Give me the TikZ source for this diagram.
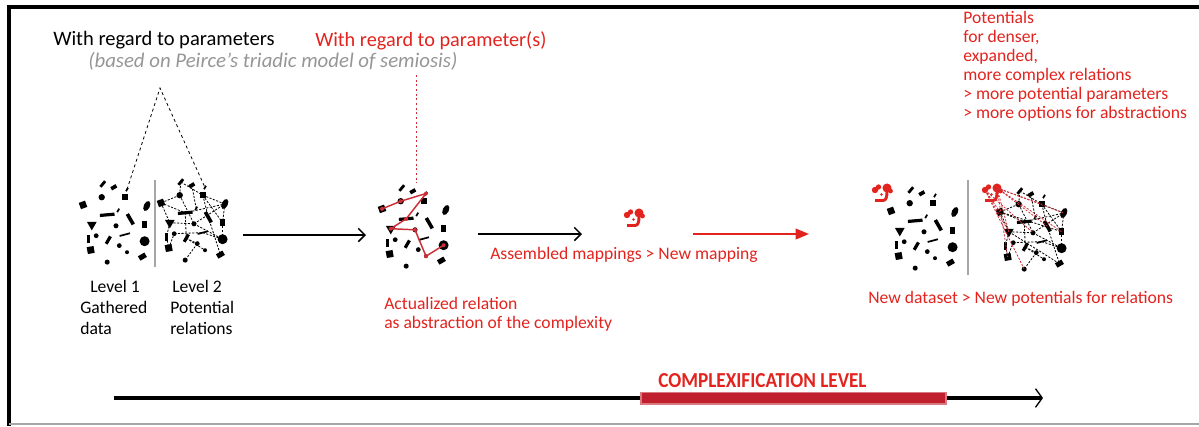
\documentclass[tikz,border=0pt]{standalone}
\usepackage{fontspec}
\setmainfont{Carlito}
\usetikzlibrary{arrows.meta,shapes.geometric}
\definecolor{rtxt}{RGB}{226,35,30}
\definecolor{rline}{RGB}{205,45,55}
\definecolor{gtxt}{RGB}{150,150,150}
\definecolor{barred}{RGB}{192,32,45}
\tikzset{
  dt/.style={circle,fill,inner sep=0pt,minimum size=#1},
  sq/.style={rectangle,fill,inner sep=0pt,minimum size=#1},
  br/.style args={#1/#2}{rectangle,fill,inner sep=0pt,minimum width=#1,minimum height=#2},
  tri/.style={regular polygon,regular polygon sides=3,shape border rotate=180,fill,inner sep=0pt,minimum size=#1},
  el/.style args={#1/#2}{ellipse,fill,inner sep=0pt,minimum width=#1,minimum height=#2},
  lbl/.style={anchor=base west,inner sep=0pt,font=\fontsize{13.2}{15}\selectfont},
  rlbl/.style={lbl,text=rtxt},
  edge2/.style={dash pattern=on 1.6pt off 1.1pt,line width=0.6pt,black},
  redge/.style={dash pattern=on 1.6pt off 1.1pt,line width=0.6pt,rline},
  scatter/.pic={
    \node[br=5.5pt/2.1pt,rotate=50] (-p1) at (18,0) {};
    \node[br=4.5pt/2.8pt,rotate=30] (-p2) at (28,3) {};
    \node[br=3pt/1.3pt,rotate=60] (-p3) at (40,5) {};
    \node[dt=4.8pt] (-p4) at (17,12) {};
    \node[sq=4.8pt] (-p5) at (38,12) {};
    \node[sq=5pt,rotate=20] (-p6) at (0,19) {};
    \node[el=4.6pt/8pt,rotate=-25] (-p7) at (58,20) {};
    \node[br=11pt/2.4pt,rotate=5] (-p8) at (22,28) {};
    \node[br=3pt/1.3pt,rotate=60] (-p9) at (32,24) {};
    \node[br=9pt/2.7pt,rotate=-60] (-p10) at (43,32) {};
    \node[tri=8.5pt] (-p11) at (8,37) {};
    \node[dt=3.8pt] (-p12) at (30,38) {};
    \node[br=4pt/5.6pt] (-p13) at (56,37) {};
    \node[dt=3.6pt] (-p14) at (12,47) {};
    \node[br=1.8pt/6.4pt] (-p15) at (5,50) {};
    \node[br=6.4pt/2.4pt,rotate=60] (-p16) at (23,51) {};
    \node[br=8pt/1.3pt,rotate=15] (-p17) at (38,46) {};
    \node[dt=7.5pt] (-p18) at (56,52) {};
    \node[dt=3.6pt] (-p19) at (33,56) {};
    \node[sq=5.2pt,rotate=10] (-p20) at (7,60) {};
    \node[dt=3pt] (-p21) at (40,62) {};
    \node[br=5.6pt/3.8pt,rotate=30] (-p22) at (54,66) {};
    \node[dt=3.8pt] (-p23) at (22,71) {};
  },
  mapglyph/.pic={
    \fill[rtxt] (-7,-3) circle[radius=2.4pt];
    \fill[rtxt] (-3.5,-6) circle[radius=2pt];
    \fill[rtxt] (5,-5) circle[radius=3.4pt];
    \fill[rtxt] (8.5,-2) circle[radius=1.8pt];
    \fill[rtxt] (-0.5,1.5) circle[radius=1pt];
    \draw[rtxt,line width=2.2pt] (-7,7.5) -- (1,7.5) .. controls (4,7.5) and (5,4) .. (5,-1);
    \coordinate (-l) at (-7,-3);
    \coordinate (-r) at (5,-5);
  }
}
\begin{document}
\begin{tikzpicture}[x=0.75pt,y=-0.75pt]
\useasboundingbox (0,0) rectangle (1199,426);
% frame
\draw[line width=2.4pt,line cap=rect] (1199,7) -- (9,7) -- (9,424);
\draw[gray!70,line width=1.2pt] (9,424) -- (1199,424);

% titles
\node[anchor=base west,inner sep=0pt,font=\fontsize{15.4}{18}\selectfont] (t1) at (53,45) {With regard to parameters};
\node[anchor=base west,inner sep=0pt,text=gtxt,font=\fontsize{15.6}{18}\selectfont\itshape] (t2) at (88,67) {(based on Peirce’s triadic model of semiosis)};
\node[anchor=base west,inner sep=0pt,text=rtxt,font=\fontsize{15.2}{18}\selectfont] (t3) at (315,46) {With regard to parameter(s)};

% top-right text
\node[rlbl] (pa) at (963,23) {Potentials};
\node[rlbl] (pb) at (963,42) {for denser,};
\node[rlbl] (pc) at (963,61) {expanded,};
\node[rlbl] (pd) at (963,80) {more complex relations};
\node[rlbl] (pe) at (963,99) {> more potential parameters};
\node[rlbl] (pf) at (963,118) {> more options for abstractions};

% clusters
\pic[scale=1.1] (L1) at (83,184) {scatter};
\draw[gray!70,line width=0.8pt] (155,180) -- (155,267);
\pic[scale=1.1] (L2) at (161,182) {scatter};
\foreach \a/\b in {p4/p1,p1/p5,p5/p7,p4/p6,p6/p8,p8/p7,p6/p11,p11/p15,p15/p20,p11/p12,p12/p7,p12/p18,p8/p16,p16/p19,p19/p23,p10/p22,p5/p10,p13/p18,p17/p18,p14/p17,p7/p13,p4/p12,p20/p14,p2/p9,p5/p13,p16/p21}
  \draw[edge2] (L2-\a.center) -- (L2-\b.center);

% triangle
\coordinate (apex) at (160,88);
\draw[line width=0.6pt,dash pattern=on 2.2pt off 2.2pt] (L1-p3.center) -- (apex) -- (L2-p3.center);

% labels level
\node[lbl] (lv1a) at (90,292) {Level 1};
\node[lbl] (lv1b) at (80,313) {Gathered};
\node[lbl] (lv1c) at (80,334) {data};
\node[lbl] (lv2a) at (172,292) {Level 2};
\node[lbl] (lv2b) at (170,313) {Potential};
\node[lbl] (lv2c) at (170,334) {relations};

% arrow 1
\coordinate (a1s) at (243,235);
\coordinate (a1e) at (366,235);
\draw[line width=1.1pt,-{Straight Barb[length=5pt,width=10pt,line width=1.1pt]}] (a1s) -- (a1e);

% middle cluster
\pic[scale=1.1] (M) at (382,188) {scatter};
\coordinate (rtop) at (416,75);
\coordinate (rbot) at (416,183);
\draw[rline,line width=0.7pt,dash pattern=on 1.5pt off 2pt] (rtop) -- (rbot);
\draw[rline,line width=1.1pt] (M-p6.center) -- (M-p4.center) -- (M-p3.center) -- (M-p8.center) -- (M-p11.center) -- (M-p12.center) -- (M-p21.center) -- (M-p18.center);
\foreach \p in {p6,p4,p3,p8,p11,p12,p21,p18}
  \fill[rline] (M-\p.center) circle[radius=1.5pt];
\node[rlbl] (act1) at (384,309) {Actualized relation};
\node[rlbl] (act2) at (384,328) {as abstraction of the complexity};

% arrow 2
\coordinate (a2s) at (478,234);
\coordinate (a2e) at (582,234);
\draw[line width=1.1pt,-{Straight Barb[length=5pt,width=10pt,line width=1.1pt]}] (a2s) -- (a2e);
\node[rlbl] (asm) at (490,259) {Assembled mappings > New mapping};

% mapping glyph
\pic (G1) at (634,218) {mapglyph};

% red arrow
\coordinate (a3s) at (693,234);
\coordinate (a3e) at (809,234);
\draw[rtxt,line width=1.3pt,-{Triangle[length=10pt,width=8pt]}] (a3s) -- (a3e);

% right clusters
\pic[scale=1.1] (R1) at (891,190) {scatter};
\pic (G2) at (882,193) {mapglyph};
\draw[gray!70,line width=0.8pt] (968,180) -- (968,275);
\pic[scale=1.1] (R2) at (1000,191) {scatter};
\foreach \a/\b in {p4/p1,p1/p5,p5/p7,p4/p6,p6/p8,p8/p7,p6/p11,p11/p15,p15/p20,p11/p12,p12/p7,p12/p18,p8/p16,p16/p19,p19/p23,p10/p22,p5/p10,p13/p18,p17/p18,p14/p17,p7/p13,p4/p12,p20/p14,p2/p9,p5/p13,p16/p21,p6/p13,p11/p22}
  \draw[edge2] (R2-\a.center) -- (R2-\b.center);
\pic (G3) at (992,193) {mapglyph};
\foreach \p in {p5,p7,p13,p10,p11,p20}
  \draw[redge] (G3-r) -- (R2-\p.center);
\foreach \p in {p6,p11,p12,p23}
  \draw[redge] (G3-l) -- (R2-\p.center);
\node[rlbl] (nd) at (868,303) {New dataset > New potentials for relations};

% bottom axis
\coordinate (axs) at (114,398);
\coordinate (axe) at (1043,398);
\draw[line width=3pt,-{Straight Barb[length=5pt,width=14pt,line width=1pt]}] (axs) -- (axe);
\fill[barred!60] (640,391.5) rectangle (947,404.5);
\fill[barred] (642,393) rectangle (945,403);
\node[anchor=base west,inner sep=0pt,text=rtxt,font=\fontsize{16}{18}\selectfont\bfseries] (cl) at (658,387) {\scalebox{0.9}[1]{COMPLEXIFICATION LEVEL}};
\end{tikzpicture}
\end{document}
